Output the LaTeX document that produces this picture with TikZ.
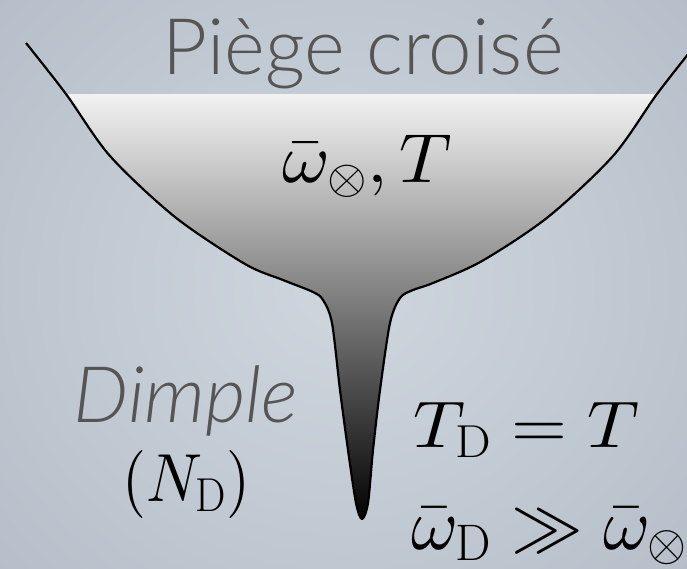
\documentclass[tikz,border=0pt]{standalone}
\usepackage{graphicx}
\usepackage{fontspec}
\IfFontExistsTF{Lato Light}{\setsansfont{Lato Light}}{\setsansfont{Lato}}
\usetikzlibrary{positioning}

% math fonts at any size
\DeclareFontShape{OML}{cmm}{m}{it}{<->cmmi10}{\skewchar\font'177}
\DeclareFontShape{OMS}{cmsy}{m}{n}{<->cmsy10}{\skewchar\font'60}
\DeclareFontShape{OMX}{cmex}{m}{n}{<->cmex10}{}
\DeclareFontShape{OT1}{cmr}{m}{n}{<->cmr10}{}

% math label squeezed into the box it has in the picture
\newcommand{\fitmath}[3]{\resizebox*{#1}{#2}{$#3$}}

\definecolor{bgin}{HTML}{CFD6DE}
\definecolor{bgout}{HTML}{B6BFC9}
\definecolor{labgray}{HTML}{555555}

\begin{document}
\begin{tikzpicture}[
    x=1pt, y=-1pt,
    %% big grey words (title and dimple name)
    word/.style={
        font=\sffamily\fontsize{78}{90}\selectfont,
        text=labgray, inner sep=0pt
    },
    %% the math labels
    mlab/.style={
        font=\fontsize{63}{70}\selectfont,
        text=black, inner sep=0pt, anchor=north west
    },
    %% the trap potential line
    potential/.style={line width=2.2pt, line join=round, black}
]

%%-------------------------------------------------------------- background
\useasboundingbox (0,0) rectangle (687,568);
\shade[inner color=bgin, outer color=bgout] (-120,-150) rectangle (807,718);

%%-------------------------------------------------------------- trap shape
\path[save path=\trappath]
    plot[smooth, tension=0.5] coordinates {
        (26,43) (66,94) (110,156) (175,217) (245,264) (283,280)
        (313,292) (323,300) (332,323) (340,390) (348,450) (356,503)
        (362,519)
        (368,503) (373,450) (380,390) (390,323) (400,298) (413,290)
        (433,283) (482,261) (548,217) (613,156) (657,94) (697,43)
    };

% filled part, from the level line down to the bottom of the dimple
\begin{scope}
    \clip[use path=\trappath];
    \shade[top color=gray!10, bottom color=black] (0,94) rectangle (687,522);
\end{scope}

\draw[potential, use path=\trappath];

%%-------------------------------------------------------------- labels
\node[word, anchor=base]  (title)   at (363,74)  {Piège croisé};
\node[word, anchor=base]  (dimple)  at (186,422) {\itshape Dimple};

\node[mlab]  (crossed) at (282,135) {\fitmath{170pt}{62pt}{\bar\omega_\otimes, T}};
\node[mlab]  (number)  at (122,450) {\fitmath{128pt}{68pt}{(N_\mathrm{D})}};
\node[mlab]  (temp)    at (413,402) {\fitmath{226pt}{55pt}{T_\mathrm{D} = T}};
\node[mlab]  (freq)    at (411,508) {\fitmath{276pt}{57pt}{\bar\omega_\mathrm{D} \gg \bar\omega_\otimes}};

\end{tikzpicture}
\end{document}
